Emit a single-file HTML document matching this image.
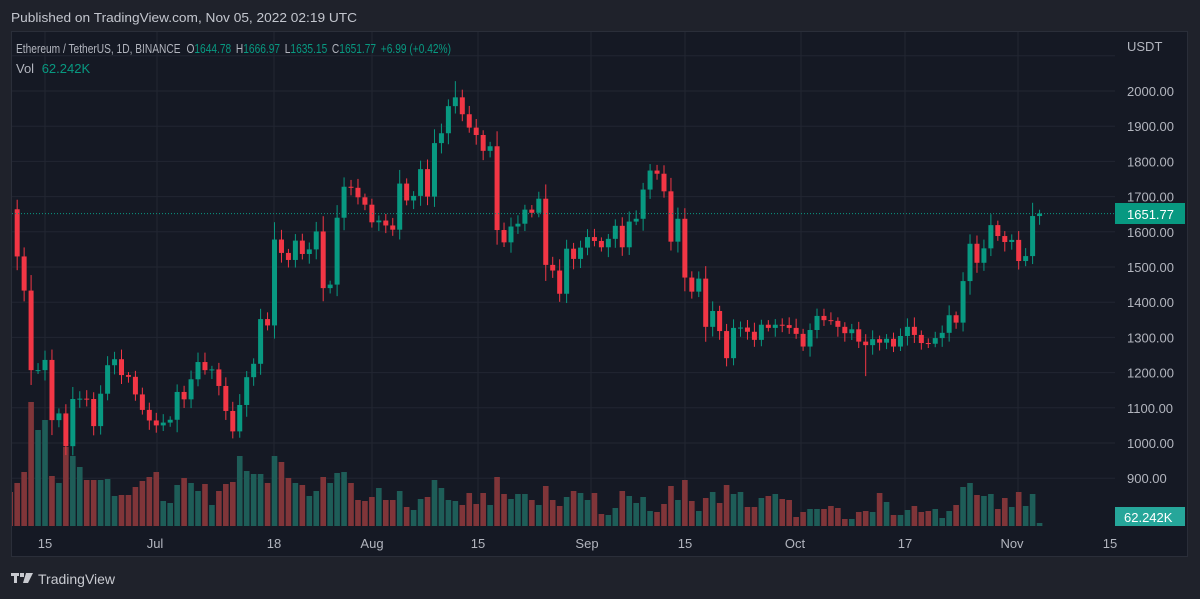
<!DOCTYPE html>
<html><head><meta charset="utf-8">
<style>
html,body{margin:0;padding:0;background:#1f222b;}
svg{display:block;font-family:"Liberation Sans",sans-serif;}
</style></head>
<body>
<svg id="s" width="1200" height="599" xmlns="http://www.w3.org/2000/svg">
<rect x="0" y="0" width="1200" height="599" fill="#1f222b"/>
<text x="11" y="22" font-size="13" fill="#c3c6ce" textLength="346" lengthAdjust="spacingAndGlyphs">Published on TradingView.com, Nov 05, 2022 02:19 UTC</text>
<rect x="11.5" y="31.5" width="1176" height="525" fill="#151924" stroke="#2a2e39"/>
<g id="grid"></g>
<g id="vol"></g>
<g id="candles"></g>
<line x1="12" y1="213.6" x2="1115" y2="213.6" stroke="#089981" stroke-width="1" stroke-dasharray="1,2"/>
<g id="axis" font-size="13" fill="#b2b5be"></g>
<text x="1127" y="51" font-size="13" fill="#b2b5be">USDT</text>
<rect x="1115" y="203" width="70" height="21" fill="#089981"/>
<text x="1127" y="219" font-size="13" fill="#fff">1651.77</text>
<rect x="1115" y="507" width="70" height="19" fill="#26a69a"/>
<text x="1124" y="522" font-size="13" fill="#fff">62.242K</text>
<text x="16" y="53" font-size="13" fill="#b2b5be" textLength="435" lengthAdjust="spacingAndGlyphs">Ethereum / TetherUS, 1D, BINANCE <tspan dx="4">O</tspan><tspan fill="#089981">1644.78</tspan><tspan dx="6">H</tspan><tspan fill="#089981">1666.97</tspan><tspan dx="6">L</tspan><tspan fill="#089981">1635.15</tspan><tspan dx="6">C</tspan><tspan fill="#089981">1651.77</tspan><tspan dx="6" fill="#089981">+6.99 (+0.42%)</tspan></text>
<text x="16" y="73" font-size="13" fill="#b2b5be">Vol <tspan dx="4" fill="#089981">62.242K</tspan></text>
<g fill="#c8cad0"><rect x="11" y="573" width="8" height="3"/><rect x="14" y="573" width="3" height="10"/><rect x="20" y="573" width="4" height="4"/><polygon points="26,573 33,573 28,583 23,583"/></g>
<text x="38" y="584" font-size="14" fill="#c8cad0">TradingView</text>
</svg>
<script>
(function(){
var NS="http://www.w3.org/2000/svg";
function el(p,t,a){var e=document.createElementNS(NS,t);for(var k in a)e.setAttribute(k,a[k]);p.appendChild(e);return e;}
function Y(p){return 443-(p-1000)*0.352;}
function X(i){return 45+(i-5)*6.955;}
var C=[1664,1530,1433,1207,1207,1236,1065,1084,991,1125,1126,1125,1048,1140,1221,1238,1193,1188,1138,1094,1064,
1050,1058,1066,1145,1124,1181,1230,1207,1209,1162,1091,1033,1108,1187,1225,1352,1334,1578,1540,1520,1575,1537,1550,1601,1440,1450,1640,1728,1725,1698,1677,
1627,1632,1618,1606,1737,1689,1702,1778,1700,1852,1880,1957,1982,1934,1896,1875,1830,1843,1605,1570,1615,1623,1663,1654,1694,1506,1490,1424,1552,1523,1555,
1585,1574,1556,1580,1617,1556,1629,1637,1720,1774,1765,1715,1572,1637,1470,1430,1467,1330,1375,1318,1241,1327,1328,1316,1293,1336,1327,1336,1335,1327,
1310,1274,1321,1361,1349,1347,1330,1312,1323,1288,1278,1295,1285,1296,1274,1304,1330,1307,1284,1282,1298,1313,1363,1342,1460,1566,1512,1553,1619,1588,1571,
1577,1517,1531,1644.78,1651.77];
var V=[34,43,54,124,96,106,50,43,79,70,59,46,46,46,47,30,31,31,39,45,49,
54,25,23,41,48,43,35,42,21,35,42,44,70,55,52,52,43,70,64,48,43,41,30,35,49,43,53,54,43,26,25,
29,38,26,26,35,19,16,27,29,46,38,26,25,21,33,22,33,21,49,32,27,32,32,26,21,40,26,20,29,35,33,
26,33,12,11,18,35,30,23,29,15,14,22,40,26,46,25,15,28,34,23,41,32,34,19,19,28,30,32,27,26,
9,14,17,17,17,20,18,7,7,14,15,14,33,24,11,11,16,20,14,15,17,8,15,21,39,43,31,30,32,17,28,
19,34,20,32,3];
var grid=document.getElementById('grid');
for(var p=900;p<=2100;p+=100){var y=Y(p);el(grid,'line',{x1:12,x2:1115,y1:y,y2:y,stroke:'#222632','stroke-width':1});}
[45,157,274,372,478,591,685,801,905,1018].forEach(function(x){el(grid,'line',{x1:x,x2:x,y1:32,y2:526,stroke:'#222632','stroke-width':1});});
var ax=document.getElementById('axis');
for(var p=900;p<=2000;p+=100){var t=el(ax,'text',{x:1127,y:Y(p)+5});t.textContent=p+'.00';}
[[45,'15'],[155,'Jul'],[274,'18'],[372,'Aug'],[478,'15'],[587,'Sep'],[685,'15'],[795,'Oct'],[905,'17'],[1012,'Nov'],[1110,'15']].forEach(function(a){var t=el(ax,'text',{x:a[0],y:548,'text-anchor':'middle'});t.textContent=a[1];});
var vg=document.getElementById('vol'),cg=document.getElementById('candles');
var prev=1790;
var special={0:[1792,null],64:[2028,null],123:[null,1190]};
for(var i=0;i<C.length;i++){
 var o=(i==0)?1790:prev,c=C[i];prev=c;
 var up=c>=o, x=X(i);
 var hi=Math.max(o,c)+8+Math.abs(c-o)*0.12+((i*37)%17);
 var lo=Math.min(o,c)-8-Math.abs(c-o)*0.12-((i*53)%19);
 if(special[i]){if(special[i][0])hi=special[i][0];if(special[i][1])lo=special[i][1];}
 var col=up?'#089981':'#f23645';
 var vx=Math.max(x-2.8,12);
 el(vg,'rect',{x:vx,y:526-V[i],width:Math.min(5.6,x+2.8-vx),height:V[i],fill:up?'#1e5d58':'#803539'});
 if(x<12)continue;
 var wt=Y(hi);
 el(cg,'line',{x1:x,x2:x,y1:wt,y2:Y(lo),stroke:col,'stroke-width':1});
 var by=Y(Math.max(o,c)),bh=Math.max(1,Y(Math.min(o,c))-by);
 var bx=Math.max(x-2.5,12);
 el(cg,'rect',{x:bx,y:by,width:x+2.5-bx,height:bh,fill:col});
}
})();
</script>
</body></html>
